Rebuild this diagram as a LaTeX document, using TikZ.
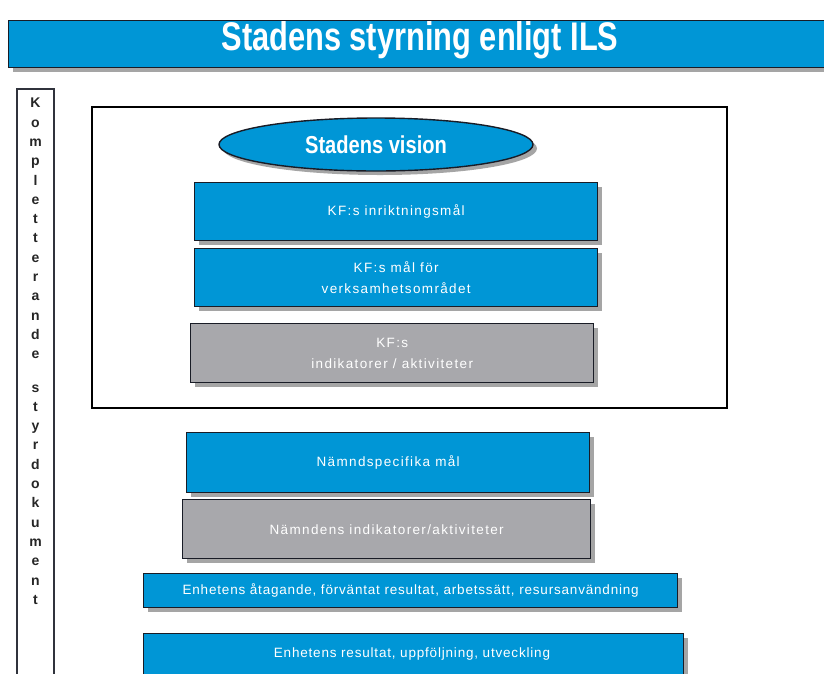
\documentclass[tikz,border=0pt]{standalone}
\usepackage{fontspec}
\setmainfont{Liberation Sans}
\newfontfamily\narrowfont[FakeStretch=0.82]{Liberation Sans}
\newfontfamily\titlefont[FakeStretch=0.77]{Liberation Sans}
\newfontfamily\boxfont[LetterSpace=10]{Liberation Sans}
\newfontfamily\enhetfont[LetterSpace=6]{Liberation Sans}
\usetikzlibrary{shapes.geometric,shadows}
\definecolor{ilsblue}{RGB}{0,150,214}
\definecolor{ilsgrey}{RGB}{168,168,172}
\definecolor{edgecol}{RGB}{25,28,38}
\begin{document}
\begin{tikzpicture}[x=1pt,y=-1pt,
  shadowed/.style={drop shadow={shadow xshift=4pt, shadow yshift=-4pt, fill=black!50, opacity=0.7}},
  box/.style={draw=edgecol, line width=1.4pt, inner sep=0pt, anchor=north west,
    text=white, align=center, font=\boxfont\fontsize{13.5}{21}\selectfont, shadowed},
  bluebox/.style={box, fill=ilsblue},
  greybox/.style={box, fill=ilsgrey},
  enhettext/.style={font=\enhetfont\fontsize{13.5}{21}\selectfont},
]
\useasboundingbox (0,0) rectangle (824,673);
\clip (0,0) rectangle (824,673);
\fill[white] (0,0) rectangle (824,673);

% title bar
\node[bluebox, minimum width=830pt, minimum height=47pt] (title) at (8,20) {};
\node[text=white, font=\titlefont\bfseries\fontsize{40}{44}\selectfont, inner sep=0pt] (titletext) at (420,40) {Stadens styrning enligt ILS};

% left column
\draw[edgecol!90, line width=1.2pt] (17,680) -- (17,89) -- (54,89) -- (54,680);
\node[anchor=north, inner sep=0pt, align=center, text=black!85,
  font=\bfseries\fontsize{14}{19.3}\selectfont] (komp) at (35.5,98)
  {K\\o\\m\\p\\l\\e\\t\\t\\e\\r\\a\\n\\d\\e\\[14pt]s\\t\\y\\r\\d\\o\\k\\u\\m\\e\\n\\t};

% outer frame
\draw[black, line width=1.5pt] (92,107) rectangle (727,408);

% vision ellipse
\node[ellipse, draw=edgecol, line width=1.4pt, fill=ilsblue, shadowed,
  minimum width=314pt, minimum height=53pt, inner sep=0pt, text=white,
  font=\narrowfont\bfseries\fontsize{24.5}{28}\selectfont] (vision) at (376,144.5) {Stadens vision};

% KF boxes
\node[bluebox, minimum width=403pt, minimum height=58pt] (kf1) at (194,182) {KF:s inriktningsmål};
\node[bluebox, minimum width=403pt, minimum height=58pt] (kf2) at (194,248) {KF:s mål för\\verksamhetsområdet};
\node[greybox, minimum width=403pt, minimum height=59pt] (kf3) at (190,323) {KF:s\\indikatorer / aktiviteter};

% Nämnd boxes
\node[bluebox, minimum width=403pt, minimum height=60pt] (n1) at (186,432) {Nämndspecifika mål};
\node[greybox, minimum width=408pt, minimum height=59pt] (n2) at (182,499) {Nämndens indikatorer/aktiviteter};

% Enhet boxes
\node[bluebox, enhettext, minimum width=534pt, minimum height=34pt] (e1) at (143,573) {Enhetens åtagande, förväntat resultat, arbetssätt, resursanvändning};
\node[bluebox, minimum width=540pt, minimum height=60pt] (e2) at (143,633) {};
\node[text=white, inner sep=0pt, enhettext] (e2text) at (412,654) {Enhetens resultat, uppföljning, utveckling};
\end{tikzpicture}
\end{document}
